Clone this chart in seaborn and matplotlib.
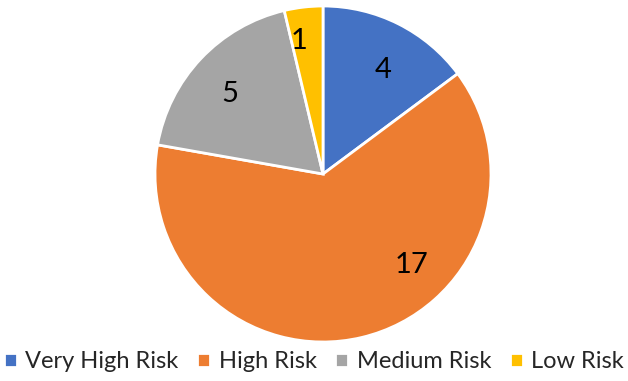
import matplotlib
matplotlib.use("Agg")
import matplotlib.pyplot as plt
import seaborn as sns
import numpy as np

sns.set_theme(style="white")
plt.rcParams['font.family'] = ['Lato', 'DejaVu Sans']

categories = ["Very High Risk", "High Risk", "Medium Risk", "Low Risk"]
values = [4, 17, 5, 1]
colors = ["#4472C4", "#ED7D31", "#A5A5A5", "#FFC000"]

fig = plt.figure(figsize=(6.28, 3.81), dpi=100)
W, H = 628, 381
cx, cy, r = 323, 174, 168
ax = fig.add_axes([(cx - r) / W, 1 - (cy + r) / H, 2 * r / W, 2 * r / H])
wedges, texts = ax.pie(values, labels=[str(v) for v in values], colors=colors,
                       startangle=90, counterclock=False, labeldistance=0.69,
                       wedgeprops=dict(edgecolor="white", linewidth=2),
                       textprops=dict(fontsize=21, color="#000000"))
# Excel "best fit" label placement tweaks
x, y = texts[-1].get_position()
texts[-1].set_position((x * 0.80 / 0.69, y * 0.80 / 0.69))
ang = np.deg2rad(-52)
texts[1].set_position((0.69 * np.cos(ang), 0.69 * np.sin(ang)))
ax.set_aspect("equal")
ax.set_xlim(-1, 1)
ax.set_ylim(-1, 1)

fig.legend(wedges, categories, loc="center", bbox_to_anchor=(0.5, 1 - 362 / H),
           ncol=4, frameon=False, fontsize=17, handlelength=0.55, handleheight=0.55,
           handletextpad=0.35, columnspacing=0.8, borderaxespad=0)
fig.savefig("out.png", dpi=100)
